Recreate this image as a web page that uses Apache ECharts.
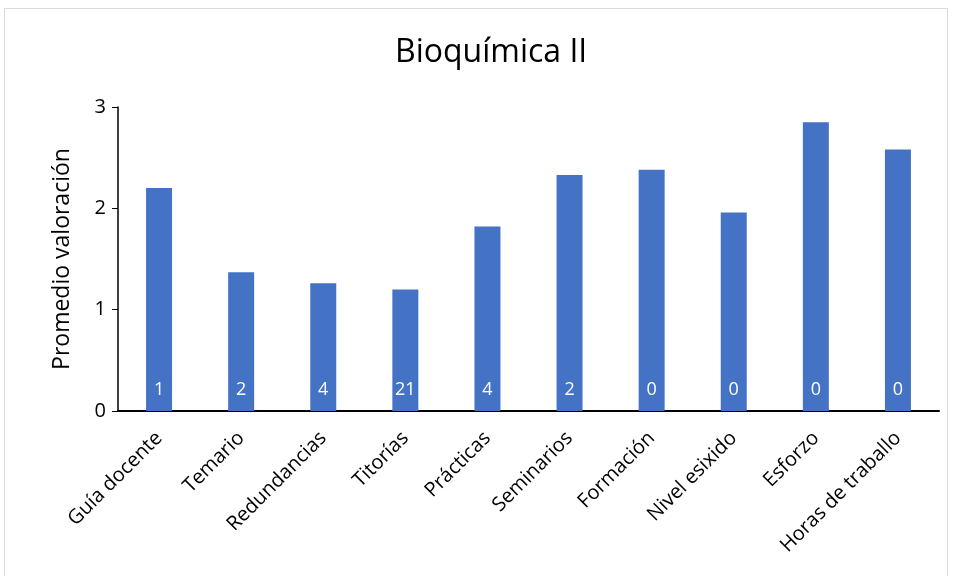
<!DOCTYPE html>
<html><head><meta charset="utf-8">
<script src="https://cdn.jsdelivr.net/npm/echarts@6/dist/echarts.min.js"></script>
<style>
html,body{margin:0;padding:0;background:#fff;}
#frame{position:absolute;left:4px;top:8px;width:944px;height:580px;border:1px solid #d9d9d9;box-sizing:border-box;}
#chart{position:absolute;left:0;top:0;width:955px;height:576px;}
</style>
</head><body>
<div id="frame"></div>
<div id="chart"></div>
<script>
const categories = ['Guía docente','Temario','Redundancias','Titorías','Prácticas','Seminarios','Formación','Nivel esixido','Esforzo','Horas de traballo'];
const valores = [2.20, 1.37, 1.26, 1.20, 1.82, 2.33, 2.38, 1.96, 2.85, 2.58];
const etiquetas = [1, 2, 4, 21, 4, 2, 0, 0, 0, 0];
const yTicks = [0, 1, 2, 3];

const font = '"Open Sans", "Liberation Sans", sans-serif';
const chart = echarts.init(document.getElementById('chart'));
chart.setOption({
  animation: false,
  title: {
    text: 'Bioquímica II', left: 390, top: 32,
    textStyle: {fontFamily: font, fontWeight: 'normal', fontSize: 32, color: '#000'}
  },
  grid: {left: 118, right: 16, top: 107, bottom: 165},
  xAxis: {
    type: 'category', data: categories,
    axisLine: {lineStyle: {color: '#000', width: 2}},
    axisTick: {show: false},
    axisLabel: {rotate: 45, fontFamily: font, fontSize: 20, color: '#000', interval: 0, margin: 24}
  },
  yAxis: {
    type: 'value', min: yTicks[0], max: yTicks[yTicks.length-1], interval: 1,
    name: 'Promedio valoración', nameLocation: 'middle', nameGap: 44,
    nameTextStyle: {fontFamily: font, fontSize: 23, color: '#000'},
    axisLine: {show: true, lineStyle: {color: '#000', width: 1.5}},
    axisTick: {show: true, length: 6, lineStyle: {color: '#000'}},
    splitLine: {show: false},
    axisLabel: {fontFamily: font, fontSize: 20, color: '#000', margin: 12}
  },
  series: [{
    type: 'bar', data: valores, barWidth: 26,
    itemStyle: {color: '#4472C4'},
    label: {
      show: true, position: 'insideBottom', distance: 12,
      color: '#fff', fontFamily: font, fontSize: 18,
      formatter: p => String(etiquetas[p.dataIndex])
    }
  }]
});
</script>
</body></html>
